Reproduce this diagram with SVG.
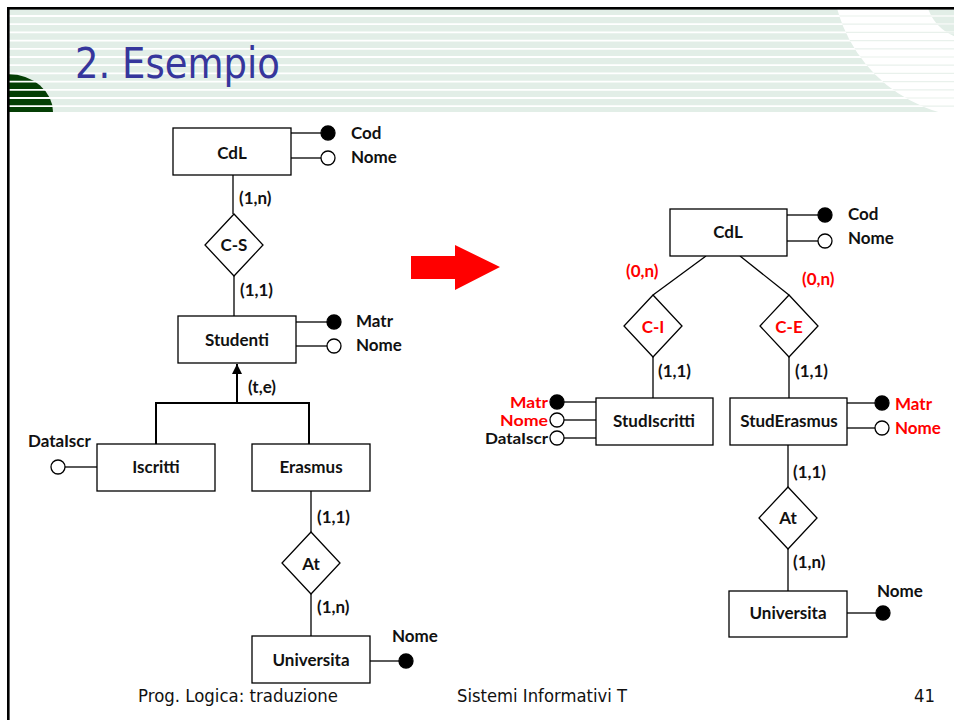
<svg xmlns="http://www.w3.org/2000/svg" width="954" height="720" viewBox="0 0 954 720">
  <style>
    .box { fill: #ffffff; stroke: #000000; stroke-width: 1.3; }
    .rel { fill: #ffffff; stroke: #000000; stroke-width: 1.3; }
    .ln { stroke: #000000; stroke-width: 1.3; fill: none; }
    .gen { stroke: #000000; stroke-width: 2; fill: none; }
    .key { fill: #000000; stroke: #000000; stroke-width: 1.3; }
    .att { fill: #ffffff; stroke: #000000; stroke-width: 1.3; }
    .t { font-family: "Lato", "Liberation Sans", sans-serif; font-weight: bold; font-size: 17px; fill: #111111; }
    .s { font-size: 15px; }
    .c { text-anchor: middle; }
    .r { text-anchor: end; }
    .red { fill: #ff0000; }
    .title { font-family: "DejaVu Sans", "Liberation Sans", sans-serif; font-size: 42px; fill: #36369c; }
    .foot { font-family: "DejaVu Sans", "Liberation Sans", sans-serif; font-size: 18px; fill: #111111; }
    .stripe { stroke: #ffffff; stroke-width: 1.8; }
    .faint { stroke: #e9f1ec; stroke-width: 1.2; }
  </style>
  <defs>
    <clipPath id="band">
      <rect x="9" y="9" width="945" height="103"/>
    </clipPath>
    <clipPath id="whiteArc">
      <circle cx="980" cy="-30" r="148"/>
    </clipPath>
    <marker id="genHead" viewBox="0 0 10 10" refX="10" refY="5" markerWidth="5" markerHeight="5" orient="auto" markerUnits="strokeWidth">
      <path d="M0,0 L10,5 L0,10 Z" fill="#000000"/>
    </marker>
  </defs>

  <!-- page background -->
  <rect x="0" y="0" width="954" height="720" fill="#ffffff"/>

  <!-- header band with stripes -->
  <g id="header">
    <rect x="9" y="9" width="945" height="103" fill="#e2eee7"/>
    <g clip-path="url(#band)">
      <circle cx="980" cy="-30" r="148" fill="#ffffff"/>
      <circle cx="970" cy="-5" r="44" fill="#e2eee7"/>
      <path d="M8,112 L8,74 A45,38 0 0 1 53,112 Z" fill="#053f05"/>
      <g>
        <line class="stripe" x1="9" y1="16" x2="954" y2="16"/>
        <line class="stripe" x1="9" y1="24.2" x2="954" y2="24.2"/>
        <line class="stripe" x1="9" y1="32.4" x2="954" y2="32.4"/>
        <line class="stripe" x1="9" y1="40.6" x2="954" y2="40.6"/>
        <line class="stripe" x1="9" y1="48.8" x2="954" y2="48.8"/>
        <line class="stripe" x1="9" y1="57" x2="954" y2="57"/>
        <line class="stripe" x1="9" y1="65.2" x2="954" y2="65.2"/>
        <line class="stripe" x1="9" y1="73.4" x2="954" y2="73.4"/>
        <line class="stripe" x1="9" y1="81.6" x2="954" y2="81.6"/>
        <line class="stripe" x1="9" y1="89.8" x2="954" y2="89.8"/>
        <line class="stripe" x1="9" y1="98" x2="954" y2="98"/>
        <line class="stripe" x1="9" y1="106.2" x2="954" y2="106.2"/>
      </g>
      <g clip-path="url(#whiteArc)">
        <line class="faint" x1="800" y1="16" x2="954" y2="16"/>
        <line class="faint" x1="800" y1="24.2" x2="954" y2="24.2"/>
        <line class="faint" x1="800" y1="32.4" x2="954" y2="32.4"/>
        <line class="faint" x1="800" y1="40.6" x2="954" y2="40.6"/>
        <line class="faint" x1="800" y1="48.8" x2="954" y2="48.8"/>
        <line class="faint" x1="800" y1="57" x2="954" y2="57"/>
        <line class="faint" x1="800" y1="65.2" x2="954" y2="65.2"/>
        <line class="faint" x1="800" y1="73.4" x2="954" y2="73.4"/>
        <line class="faint" x1="800" y1="81.6" x2="954" y2="81.6"/>
        <line class="faint" x1="800" y1="89.8" x2="954" y2="89.8"/>
        <line class="faint" x1="800" y1="98" x2="954" y2="98"/>
        <line class="faint" x1="800" y1="106.2" x2="954" y2="106.2"/>
      </g>
    </g>
    <!-- slide frame -->
    <rect x="7" y="7" width="947" height="2.6" fill="#000000"/>
    <rect x="7" y="7" width="2.6" height="713" fill="#000000"/>
    <text class="title" x="75" y="78" textLength="205" lengthAdjust="spacingAndGlyphs">2. Esempio</text>
  </g>

  <!-- connectors -->
  <g id="connectors">
    <!-- left schema -->
    <line class="ln" x1="291" y1="133" x2="321" y2="133"/>
    <line class="ln" x1="291" y1="158" x2="321" y2="158"/>
    <line class="ln" x1="233" y1="175" x2="233" y2="214"/>
    <line class="ln" x1="234" y1="276" x2="234" y2="316"/>
    <line class="ln" x1="296" y1="322" x2="328" y2="322"/>
    <line class="ln" x1="296" y1="346" x2="328" y2="346"/>
    <line class="gen" x1="237" y1="403" x2="237" y2="364" marker-end="url(#genHead)"/>
    <polyline class="gen" points="156,444 156,403 309,403 309,444"/>
    <line class="ln" x1="65" y1="467" x2="97" y2="467"/>
    <line class="ln" x1="311" y1="491" x2="311" y2="532"/>
    <line class="ln" x1="311" y1="594" x2="311" y2="636"/>
    <line class="ln" x1="370" y1="661" x2="399" y2="661"/>
    <!-- right schema -->
    <line class="ln" x1="787" y1="215" x2="818" y2="215"/>
    <line class="ln" x1="787" y1="241" x2="818" y2="241"/>
    <line class="ln" x1="706" y1="256" x2="653" y2="295"/>
    <line class="ln" x1="740" y1="256" x2="789" y2="295"/>
    <line class="ln" x1="653" y1="357" x2="653" y2="398"/>
    <line class="ln" x1="789" y1="357" x2="789" y2="398"/>
    <line class="ln" x1="564" y1="402" x2="596" y2="402"/>
    <line class="ln" x1="564" y1="420" x2="596" y2="420"/>
    <line class="ln" x1="564" y1="438" x2="596" y2="438"/>
    <line class="ln" x1="847" y1="403" x2="875" y2="403"/>
    <line class="ln" x1="847" y1="428" x2="875" y2="428"/>
    <line class="ln" x1="788" y1="445" x2="788" y2="487"/>
    <line class="ln" x1="788" y1="549" x2="788" y2="591"/>
    <line class="ln" x1="847" y1="613" x2="876" y2="613"/>
  </g>

  <!-- transformation arrow -->
  <polygon id="arrow" points="411,256 455,256 455,245 500,267 455,290 455,279 411,279" fill="#ff0000"/>

  <!-- left schema: entities, relationships, attributes -->
  <g id="L_CdL">
    <rect class="box" x="173" y="128" width="118" height="47"/>
    <text class="t c" x="232" y="159">CdL</text>
    <circle class="key" cx="328" cy="133" r="7"/>
    <circle class="att" cx="328" cy="158" r="7"/>
    <text class="t" x="351" y="139">Cod</text>
    <text class="t" x="351" y="163">Nome</text>
  </g>
  <g id="L_CS">
    <polygon class="rel" points="234,214 263,245 234,276 205,245"/>
    <text class="t c" x="234" y="251">C-S</text>
    <text class="t" x="239" y="204">(1,n)</text>
    <text class="t" x="240" y="296">(1,1)</text>
  </g>
  <g id="L_Studenti">
    <rect class="box" x="178" y="316" width="118" height="47"/>
    <text class="t c" x="237" y="346">Studenti</text>
    <circle class="key" cx="334" cy="322" r="7"/>
    <circle class="att" cx="334" cy="346" r="7"/>
    <text class="t" x="356" y="327">Matr</text>
    <text class="t" x="356" y="351">Nome</text>
    <text class="t" x="248" y="393">(t,e)</text>
  </g>
  <g id="L_Iscritti">
    <rect class="box" x="97" y="444" width="118" height="47"/>
    <text class="t c" x="156" y="473">Iscritti</text>
    <circle class="att" cx="58" cy="467" r="7"/>
    <text class="t" x="28" y="447">DataIscr</text>
  </g>
  <g id="L_Erasmus">
    <rect class="box" x="252" y="444" width="118" height="47"/>
    <text class="t c" x="311" y="473">Erasmus</text>
  </g>
  <g id="L_At">
    <polygon class="rel" points="311,532 340,563 311,594 282,563"/>
    <text class="t c" x="311" y="570">At</text>
    <text class="t" x="317" y="523">(1,1)</text>
    <text class="t" x="317" y="613">(1,n)</text>
  </g>
  <g id="L_Universita">
    <rect class="box" x="252" y="636" width="118" height="47"/>
    <text class="t c" x="311" y="666">Universita</text>
    <circle class="key" cx="406" cy="661" r="7"/>
    <text class="t" x="392" y="642">Nome</text>
  </g>

  <!-- right schema: entities, relationships, attributes -->
  <g id="R_CdL">
    <rect class="box" x="670" y="209" width="117" height="47"/>
    <text class="t c" x="728" y="238">CdL</text>
    <circle class="key" cx="825" cy="215" r="7"/>
    <circle class="att" cx="825" cy="241" r="7"/>
    <text class="t" x="848" y="220">Cod</text>
    <text class="t" x="848" y="244">Nome</text>
    <text class="t red" x="626" y="277">(0,n)</text>
    <text class="t red" x="802" y="285">(0,n)</text>
  </g>
  <g id="R_CI">
    <polygon class="rel" points="653,295 682,326 653,357 624,326"/>
    <text class="t c red" x="653" y="333">C-I</text>
    <text class="t" x="658" y="377">(1,1)</text>
  </g>
  <g id="R_CE">
    <polygon class="rel" points="789,295 818,326 789,357 760,326"/>
    <text class="t c red" x="789" y="333">C-E</text>
    <text class="t" x="795" y="377">(1,1)</text>
  </g>
  <g id="R_StudIscritti">
    <rect class="box" x="596" y="398" width="117" height="47"/>
    <text class="t c" x="654" y="427">StudIscritti</text>
    <circle class="key" cx="557" cy="402" r="7"/>
    <circle class="att" cx="557" cy="420" r="7"/>
    <circle class="att" cx="557" cy="438" r="7"/>
    <text class="t s r red" x="548" y="407.5" textLength="38" lengthAdjust="spacingAndGlyphs">Matr</text>
    <text class="t s r red" x="548" y="425.5" textLength="48" lengthAdjust="spacingAndGlyphs">Nome</text>
    <text class="t s r" x="548" y="443.5" textLength="63" lengthAdjust="spacingAndGlyphs">DataIscr</text>
  </g>
  <g id="R_StudErasmus">
    <rect class="box" x="730" y="398" width="117" height="47"/>
    <text class="t c" x="789" y="427">StudErasmus</text>
    <circle class="key" cx="882" cy="403" r="7"/>
    <circle class="att" cx="882" cy="428" r="7"/>
    <text class="t red" x="895" y="410">Matr</text>
    <text class="t red" x="895" y="434">Nome</text>
  </g>
  <g id="R_At">
    <polygon class="rel" points="788,487 817,518 788,549 759,518"/>
    <text class="t c" x="788" y="524">At</text>
    <text class="t" x="793" y="478">(1,1)</text>
    <text class="t" x="793" y="568">(1,n)</text>
  </g>
  <g id="R_Universita">
    <rect class="box" x="729" y="591" width="118" height="46"/>
    <text class="t c" x="788" y="619">Universita</text>
    <circle class="key" cx="883" cy="613" r="7"/>
    <text class="t" x="877" y="597">Nome</text>
  </g>

  <!-- footer -->
  <g id="footer">
    <text class="foot" x="138" y="702" textLength="200" lengthAdjust="spacingAndGlyphs">Prog. Logica: traduzione</text>
    <text class="foot" x="457" y="702" textLength="170" lengthAdjust="spacingAndGlyphs">Sistemi Informativi T</text>
    <text class="foot" x="914" y="702" textLength="21" lengthAdjust="spacingAndGlyphs">41</text>
  </g>
</svg>
